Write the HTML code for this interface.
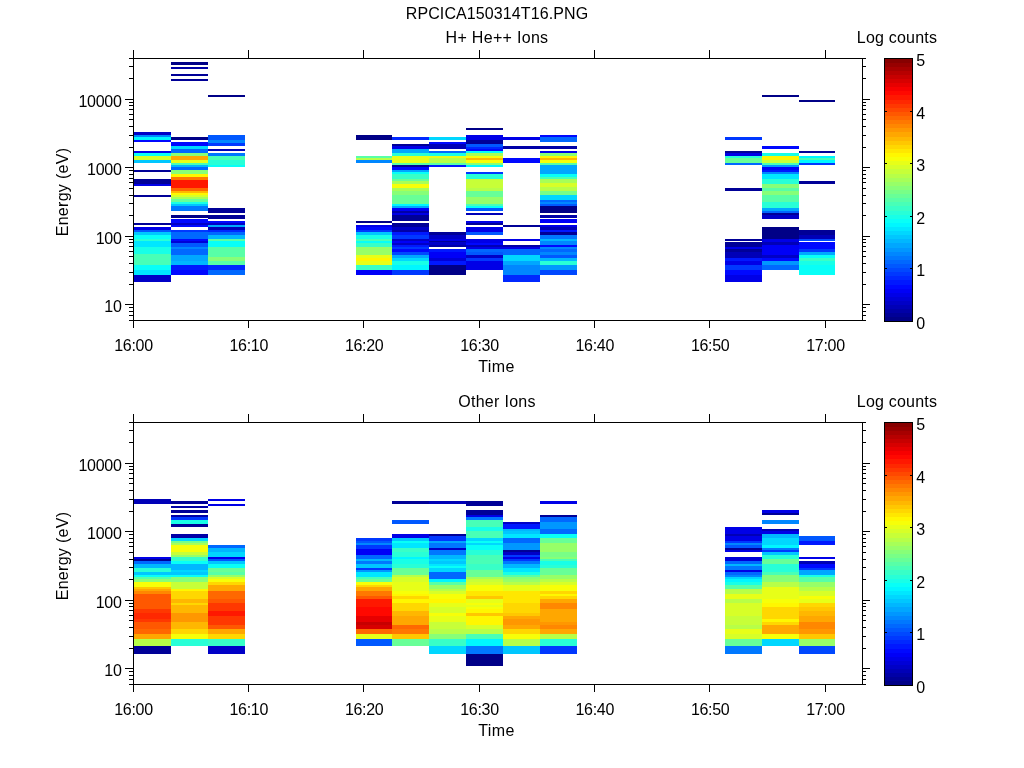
<!DOCTYPE html><html><head><meta charset="utf-8"><title>RPCICA150314T16</title><style>html,body{margin:0;padding:0;background:#fff}svg{display:block}</style></head><body>
<svg width="1024" height="768" viewBox="0 0 1024 768" font-family="Liberation Sans, sans-serif" font-size="16" fill="#000">
<rect width="1024" height="768" fill="#fff"/>
<text x="497" y="19" text-anchor="middle" letter-spacing="0.1">RPCICA150314T16.PNG</text>
<g shape-rendering="crispEdges">
<rect x="134" y="132" width="37" height="3" fill="#0000c7"/>
<rect x="134" y="135" width="37" height="2" fill="#0087ff"/>
<rect x="134" y="137" width="37" height="3" fill="#00f7ff"/>
<rect x="134" y="140" width="37" height="2" fill="#0008ff"/>
<rect x="134" y="151" width="37" height="2" fill="#0000e7"/>
<rect x="134" y="153" width="37" height="3" fill="#08fff7"/>
<rect x="134" y="156" width="37" height="4" fill="#d7ff28"/>
<rect x="134" y="160" width="37" height="3" fill="#00c7ff"/>
<rect x="134" y="170" width="37" height="2" fill="#000097"/>
<rect x="134" y="179" width="37" height="5" fill="#000097"/>
<rect x="134" y="184" width="37" height="2" fill="#0000e7"/>
<rect x="134" y="195" width="37" height="2" fill="#000097"/>
<rect x="134" y="223" width="37" height="2" fill="#000097"/>
<rect x="134" y="227" width="37" height="3" fill="#0000e7"/>
<rect x="134" y="230" width="37" height="2" fill="#0058ff"/>
<rect x="134" y="232" width="37" height="3" fill="#00c7ff"/>
<rect x="134" y="235" width="37" height="4" fill="#08fff7"/>
<rect x="134" y="239" width="37" height="2" fill="#28ffd7"/>
<rect x="134" y="241" width="37" height="6" fill="#00e7ff"/>
<rect x="134" y="247" width="37" height="7" fill="#18ffe7"/>
<rect x="134" y="254" width="37" height="11" fill="#48ffb7"/>
<rect x="134" y="265" width="37" height="5" fill="#08fff7"/>
<rect x="134" y="270" width="37" height="5" fill="#00e7ff"/>
<rect x="134" y="275" width="37" height="7" fill="#0000c7"/>
<rect x="171" y="62" width="37" height="3" fill="#000087"/>
<rect x="171" y="67" width="37" height="2" fill="#0000a7"/>
<rect x="171" y="74" width="37" height="2" fill="#000097"/>
<rect x="171" y="79" width="37" height="2" fill="#000097"/>
<rect x="171" y="137" width="37" height="3" fill="#000087"/>
<rect x="171" y="142" width="37" height="4" fill="#0008ff"/>
<rect x="171" y="146" width="37" height="3" fill="#00d7ff"/>
<rect x="171" y="149" width="37" height="4" fill="#0068ff"/>
<rect x="171" y="153" width="37" height="3" fill="#87ff78"/>
<rect x="171" y="156" width="37" height="4" fill="#ffa700"/>
<rect x="171" y="160" width="37" height="3" fill="#e7ff18"/>
<rect x="171" y="163" width="37" height="2" fill="#48ffb7"/>
<rect x="171" y="165" width="37" height="2" fill="#00b7ff"/>
<rect x="171" y="167" width="37" height="3" fill="#0068ff"/>
<rect x="171" y="170" width="37" height="4" fill="#87ff78"/>
<rect x="171" y="174" width="37" height="3" fill="#fff700"/>
<rect x="171" y="177" width="37" height="3" fill="#ff7800"/>
<rect x="171" y="180" width="37" height="8" fill="#ff1800"/>
<rect x="171" y="188" width="37" height="3" fill="#ff6800"/>
<rect x="171" y="191" width="37" height="2" fill="#ffb700"/>
<rect x="171" y="193" width="37" height="2" fill="#fff700"/>
<rect x="171" y="195" width="37" height="2" fill="#d7ff28"/>
<rect x="171" y="197" width="37" height="2" fill="#a7ff58"/>
<rect x="171" y="199" width="37" height="3" fill="#68ff97"/>
<rect x="171" y="202" width="37" height="2" fill="#18ffe7"/>
<rect x="171" y="204" width="37" height="2" fill="#00c7ff"/>
<rect x="171" y="206" width="37" height="5" fill="#0078ff"/>
<rect x="171" y="215" width="37" height="3" fill="#000087"/>
<rect x="171" y="219" width="37" height="4" fill="#0008ff"/>
<rect x="171" y="223" width="37" height="2" fill="#0000c7"/>
<rect x="171" y="225" width="37" height="2" fill="#0008ff"/>
<rect x="171" y="230" width="37" height="2" fill="#0038ff"/>
<rect x="171" y="232" width="37" height="7" fill="#0068ff"/>
<rect x="171" y="239" width="37" height="2" fill="#0008ff"/>
<rect x="171" y="241" width="37" height="2" fill="#0000d7"/>
<rect x="171" y="243" width="37" height="4" fill="#0058ff"/>
<rect x="171" y="247" width="37" height="2" fill="#0087ff"/>
<rect x="171" y="249" width="37" height="6" fill="#0068ff"/>
<rect x="171" y="255" width="37" height="6" fill="#00a7ff"/>
<rect x="171" y="261" width="37" height="4" fill="#00b7ff"/>
<rect x="171" y="265" width="37" height="5" fill="#0018ff"/>
<rect x="171" y="270" width="37" height="5" fill="#0008ff"/>
<rect x="208" y="95" width="37" height="2" fill="#000087"/>
<rect x="208" y="135" width="37" height="5" fill="#0058ff"/>
<rect x="208" y="140" width="37" height="3" fill="#0087ff"/>
<rect x="208" y="143" width="37" height="3" fill="#0038ff"/>
<rect x="208" y="149" width="37" height="2" fill="#0000b7"/>
<rect x="208" y="153" width="37" height="3" fill="#0078ff"/>
<rect x="208" y="156" width="37" height="4" fill="#48ffb7"/>
<rect x="208" y="160" width="37" height="5" fill="#28ffd7"/>
<rect x="208" y="165" width="37" height="2" fill="#08fff7"/>
<rect x="208" y="208" width="37" height="5" fill="#000097"/>
<rect x="208" y="215" width="37" height="4" fill="#000097"/>
<rect x="208" y="221" width="37" height="2" fill="#0008ff"/>
<rect x="208" y="223" width="37" height="2" fill="#0000c7"/>
<rect x="208" y="225" width="37" height="2" fill="#00a7ff"/>
<rect x="208" y="227" width="37" height="3" fill="#0000b7"/>
<rect x="208" y="230" width="37" height="2" fill="#0028ff"/>
<rect x="208" y="232" width="37" height="3" fill="#0068ff"/>
<rect x="208" y="235" width="37" height="4" fill="#00b7ff"/>
<rect x="208" y="239" width="37" height="2" fill="#58ffa7"/>
<rect x="208" y="241" width="37" height="6" fill="#08fff7"/>
<rect x="208" y="247" width="37" height="10" fill="#58ffa7"/>
<rect x="208" y="257" width="37" height="4" fill="#87ff78"/>
<rect x="208" y="261" width="37" height="4" fill="#58ffa7"/>
<rect x="208" y="265" width="37" height="5" fill="#0028ff"/>
<rect x="208" y="270" width="37" height="5" fill="#0068ff"/>
<rect x="356" y="135" width="36" height="5" fill="#000087"/>
<rect x="356" y="156" width="36" height="2" fill="#58ffa7"/>
<rect x="356" y="158" width="36" height="2" fill="#b7ff48"/>
<rect x="356" y="160" width="36" height="3" fill="#0087ff"/>
<rect x="356" y="221" width="36" height="2" fill="#000087"/>
<rect x="356" y="225" width="36" height="2" fill="#0000e7"/>
<rect x="356" y="227" width="36" height="3" fill="#0008ff"/>
<rect x="356" y="230" width="36" height="2" fill="#0038ff"/>
<rect x="356" y="232" width="36" height="3" fill="#00c7ff"/>
<rect x="356" y="235" width="36" height="4" fill="#18ffe7"/>
<rect x="356" y="239" width="36" height="2" fill="#48ffb7"/>
<rect x="356" y="241" width="36" height="2" fill="#08fff7"/>
<rect x="356" y="243" width="36" height="4" fill="#38ffc7"/>
<rect x="356" y="247" width="36" height="8" fill="#97ff68"/>
<rect x="356" y="255" width="36" height="3" fill="#e7ff18"/>
<rect x="356" y="258" width="36" height="3" fill="#fff700"/>
<rect x="356" y="261" width="36" height="4" fill="#e7ff18"/>
<rect x="356" y="265" width="36" height="5" fill="#38ffc7"/>
<rect x="356" y="270" width="36" height="5" fill="#0000f7"/>
<rect x="392" y="137" width="37" height="3" fill="#0028ff"/>
<rect x="392" y="144" width="37" height="2" fill="#000097"/>
<rect x="392" y="146" width="37" height="3" fill="#0000e7"/>
<rect x="392" y="149" width="37" height="4" fill="#00a7ff"/>
<rect x="392" y="153" width="37" height="3" fill="#28ffd7"/>
<rect x="392" y="156" width="37" height="7" fill="#e7ff18"/>
<rect x="392" y="163" width="37" height="2" fill="#58ffa7"/>
<rect x="392" y="165" width="37" height="2" fill="#000097"/>
<rect x="392" y="167" width="37" height="3" fill="#0008ff"/>
<rect x="392" y="170" width="37" height="2" fill="#00a7ff"/>
<rect x="392" y="172" width="37" height="2" fill="#08fff7"/>
<rect x="392" y="174" width="37" height="5" fill="#38ffc7"/>
<rect x="392" y="179" width="37" height="2" fill="#68ff97"/>
<rect x="392" y="181" width="37" height="3" fill="#a7ff58"/>
<rect x="392" y="184" width="37" height="4" fill="#f7ff08"/>
<rect x="392" y="188" width="37" height="3" fill="#a7ff58"/>
<rect x="392" y="191" width="37" height="4" fill="#87ff78"/>
<rect x="392" y="195" width="37" height="9" fill="#68ff97"/>
<rect x="392" y="204" width="37" height="2" fill="#00f7ff"/>
<rect x="392" y="206" width="37" height="2" fill="#00a7ff"/>
<rect x="392" y="208" width="37" height="3" fill="#0000f7"/>
<rect x="392" y="211" width="37" height="2" fill="#0000a7"/>
<rect x="392" y="213" width="37" height="2" fill="#0000e7"/>
<rect x="392" y="215" width="37" height="6" fill="#000097"/>
<rect x="392" y="223" width="37" height="4" fill="#000097"/>
<rect x="392" y="227" width="37" height="3" fill="#0000c7"/>
<rect x="392" y="230" width="37" height="2" fill="#0000a7"/>
<rect x="392" y="232" width="37" height="3" fill="#0018ff"/>
<rect x="392" y="235" width="37" height="4" fill="#0038ff"/>
<rect x="392" y="239" width="37" height="2" fill="#0000c7"/>
<rect x="392" y="241" width="37" height="2" fill="#0000f7"/>
<rect x="392" y="243" width="37" height="2" fill="#0000c7"/>
<rect x="392" y="245" width="37" height="2" fill="#0018ff"/>
<rect x="392" y="247" width="37" height="2" fill="#0038ff"/>
<rect x="392" y="249" width="37" height="3" fill="#0008ff"/>
<rect x="392" y="252" width="37" height="3" fill="#0048ff"/>
<rect x="392" y="255" width="37" height="3" fill="#00a7ff"/>
<rect x="392" y="258" width="37" height="3" fill="#00d7ff"/>
<rect x="392" y="261" width="37" height="4" fill="#18ffe7"/>
<rect x="392" y="265" width="37" height="5" fill="#00f7ff"/>
<rect x="392" y="270" width="37" height="5" fill="#0038ff"/>
<rect x="429" y="137" width="37" height="3" fill="#00d7ff"/>
<rect x="429" y="142" width="37" height="2" fill="#0008ff"/>
<rect x="429" y="144" width="37" height="5" fill="#0000b7"/>
<rect x="429" y="151" width="37" height="2" fill="#0068ff"/>
<rect x="429" y="153" width="37" height="3" fill="#18ffe7"/>
<rect x="429" y="156" width="37" height="2" fill="#e7ff18"/>
<rect x="429" y="158" width="37" height="5" fill="#b7ff48"/>
<rect x="429" y="163" width="37" height="2" fill="#58ffa7"/>
<rect x="429" y="165" width="37" height="2" fill="#0018ff"/>
<rect x="429" y="232" width="37" height="3" fill="#000097"/>
<rect x="429" y="235" width="37" height="4" fill="#0000c7"/>
<rect x="429" y="239" width="37" height="2" fill="#0000e7"/>
<rect x="429" y="241" width="37" height="1" fill="#000097"/>
<rect x="429" y="242" width="37" height="3" fill="#0000c7"/>
<rect x="429" y="245" width="37" height="2" fill="#0000a7"/>
<rect x="429" y="249" width="37" height="3" fill="#0018ff"/>
<rect x="429" y="252" width="37" height="6" fill="#0000f7"/>
<rect x="429" y="258" width="37" height="3" fill="#0000d7"/>
<rect x="429" y="261" width="37" height="4" fill="#0018ff"/>
<rect x="429" y="265" width="37" height="10" fill="#000087"/>
<rect x="466" y="128" width="37" height="2" fill="#000087"/>
<rect x="466" y="135" width="37" height="5" fill="#0000e7"/>
<rect x="466" y="140" width="37" height="4" fill="#000097"/>
<rect x="466" y="144" width="37" height="3" fill="#0058ff"/>
<rect x="466" y="147" width="37" height="2" fill="#0028ff"/>
<rect x="466" y="149" width="37" height="2" fill="#0008ff"/>
<rect x="466" y="151" width="37" height="2" fill="#08fff7"/>
<rect x="466" y="153" width="37" height="3" fill="#a7ff58"/>
<rect x="466" y="156" width="37" height="2" fill="#f7ff08"/>
<rect x="466" y="158" width="37" height="2" fill="#ffb700"/>
<rect x="466" y="160" width="37" height="3" fill="#f7ff08"/>
<rect x="466" y="163" width="37" height="2" fill="#87ff78"/>
<rect x="466" y="165" width="37" height="2" fill="#00f7ff"/>
<rect x="466" y="172" width="37" height="2" fill="#0038ff"/>
<rect x="466" y="174" width="37" height="5" fill="#28ffd7"/>
<rect x="466" y="179" width="37" height="9" fill="#c7ff38"/>
<rect x="466" y="188" width="37" height="3" fill="#b7ff48"/>
<rect x="466" y="191" width="37" height="6" fill="#68ff97"/>
<rect x="466" y="197" width="37" height="7" fill="#97ff68"/>
<rect x="466" y="204" width="37" height="2" fill="#48ffb7"/>
<rect x="466" y="206" width="37" height="2" fill="#08fff7"/>
<rect x="466" y="208" width="37" height="3" fill="#0058ff"/>
<rect x="466" y="213" width="37" height="2" fill="#0000b7"/>
<rect x="466" y="221" width="37" height="2" fill="#0000e7"/>
<rect x="466" y="223" width="37" height="2" fill="#000097"/>
<rect x="466" y="227" width="37" height="5" fill="#0000e7"/>
<rect x="466" y="232" width="37" height="3" fill="#0058ff"/>
<rect x="466" y="239" width="37" height="4" fill="#0000e7"/>
<rect x="466" y="243" width="37" height="2" fill="#0008ff"/>
<rect x="466" y="245" width="37" height="2" fill="#0000b7"/>
<rect x="466" y="247" width="37" height="2" fill="#0000e7"/>
<rect x="466" y="249" width="37" height="3" fill="#0068ff"/>
<rect x="466" y="252" width="37" height="3" fill="#0058ff"/>
<rect x="466" y="255" width="37" height="3" fill="#0000c7"/>
<rect x="466" y="258" width="37" height="3" fill="#0038ff"/>
<rect x="466" y="261" width="37" height="9" fill="#0000e7"/>
<rect x="503" y="137" width="37" height="3" fill="#0000e7"/>
<rect x="503" y="146" width="37" height="3" fill="#0000a7"/>
<rect x="503" y="158" width="37" height="5" fill="#0008ff"/>
<rect x="503" y="225" width="37" height="2" fill="#000097"/>
<rect x="503" y="239" width="37" height="2" fill="#0000e7"/>
<rect x="503" y="245" width="37" height="2" fill="#0000a7"/>
<rect x="503" y="247" width="37" height="2" fill="#0000e7"/>
<rect x="503" y="249" width="37" height="6" fill="#0068ff"/>
<rect x="503" y="255" width="37" height="6" fill="#00d7ff"/>
<rect x="503" y="261" width="37" height="4" fill="#00a7ff"/>
<rect x="503" y="265" width="37" height="10" fill="#0087ff"/>
<rect x="503" y="275" width="37" height="7" fill="#0028ff"/>
<rect x="540" y="135" width="37" height="2" fill="#0008ff"/>
<rect x="540" y="137" width="37" height="5" fill="#0068ff"/>
<rect x="540" y="146" width="37" height="3" fill="#0000a7"/>
<rect x="540" y="151" width="37" height="2" fill="#0000e7"/>
<rect x="540" y="153" width="37" height="3" fill="#87ff78"/>
<rect x="540" y="156" width="37" height="2" fill="#fff700"/>
<rect x="540" y="158" width="37" height="2" fill="#ffb700"/>
<rect x="540" y="160" width="37" height="3" fill="#f7ff08"/>
<rect x="540" y="163" width="37" height="2" fill="#58ffa7"/>
<rect x="540" y="165" width="37" height="9" fill="#00a7ff"/>
<rect x="540" y="174" width="37" height="3" fill="#08fff7"/>
<rect x="540" y="177" width="37" height="2" fill="#48ffb7"/>
<rect x="540" y="179" width="37" height="4" fill="#a7ff58"/>
<rect x="540" y="183" width="37" height="4" fill="#d7ff28"/>
<rect x="540" y="187" width="37" height="4" fill="#b7ff48"/>
<rect x="540" y="191" width="37" height="4" fill="#78ff87"/>
<rect x="540" y="195" width="37" height="5" fill="#00d7ff"/>
<rect x="540" y="200" width="37" height="2" fill="#0068ff"/>
<rect x="540" y="202" width="37" height="2" fill="#0087ff"/>
<rect x="540" y="204" width="37" height="2" fill="#0058ff"/>
<rect x="540" y="206" width="37" height="7" fill="#000087"/>
<rect x="540" y="215" width="37" height="3" fill="#0000a7"/>
<rect x="540" y="219" width="37" height="4" fill="#0000f7"/>
<rect x="540" y="225" width="37" height="2" fill="#0000e7"/>
<rect x="540" y="227" width="37" height="3" fill="#0000b7"/>
<rect x="540" y="230" width="37" height="2" fill="#0018ff"/>
<rect x="540" y="232" width="37" height="3" fill="#000097"/>
<rect x="540" y="235" width="37" height="4" fill="#0078ff"/>
<rect x="540" y="239" width="37" height="2" fill="#00b7ff"/>
<rect x="540" y="241" width="37" height="4" fill="#0087ff"/>
<rect x="540" y="245" width="37" height="2" fill="#0008ff"/>
<rect x="540" y="247" width="37" height="2" fill="#0087ff"/>
<rect x="540" y="249" width="37" height="3" fill="#0068ff"/>
<rect x="540" y="252" width="37" height="3" fill="#0087ff"/>
<rect x="540" y="255" width="37" height="3" fill="#0058ff"/>
<rect x="540" y="258" width="37" height="3" fill="#00b7ff"/>
<rect x="540" y="261" width="37" height="4" fill="#28ffd7"/>
<rect x="540" y="265" width="37" height="5" fill="#0097ff"/>
<rect x="540" y="270" width="37" height="5" fill="#0048ff"/>
<rect x="725" y="137" width="37" height="3" fill="#0038ff"/>
<rect x="725" y="151" width="37" height="2" fill="#000097"/>
<rect x="725" y="153" width="37" height="3" fill="#0000e7"/>
<rect x="725" y="156" width="37" height="2" fill="#28ffd7"/>
<rect x="725" y="158" width="37" height="5" fill="#68ff97"/>
<rect x="725" y="163" width="37" height="2" fill="#0068ff"/>
<rect x="725" y="188" width="37" height="3" fill="#000097"/>
<rect x="725" y="239" width="37" height="2" fill="#000097"/>
<rect x="725" y="242" width="37" height="5" fill="#000097"/>
<rect x="725" y="247" width="37" height="2" fill="#0000e7"/>
<rect x="725" y="249" width="37" height="3" fill="#000097"/>
<rect x="725" y="252" width="37" height="6" fill="#0000b7"/>
<rect x="725" y="258" width="37" height="3" fill="#0018ff"/>
<rect x="725" y="261" width="37" height="4" fill="#0000e7"/>
<rect x="725" y="265" width="37" height="5" fill="#0038ff"/>
<rect x="725" y="270" width="37" height="5" fill="#0008ff"/>
<rect x="725" y="275" width="37" height="7" fill="#0000e7"/>
<rect x="762" y="95" width="37" height="2" fill="#000087"/>
<rect x="762" y="146" width="37" height="3" fill="#0008ff"/>
<rect x="762" y="153" width="37" height="3" fill="#18ffe7"/>
<rect x="762" y="156" width="37" height="4" fill="#fff700"/>
<rect x="762" y="160" width="37" height="3" fill="#c7ff38"/>
<rect x="762" y="163" width="37" height="2" fill="#48ffb7"/>
<rect x="762" y="165" width="37" height="2" fill="#0097ff"/>
<rect x="762" y="167" width="37" height="3" fill="#0000f7"/>
<rect x="762" y="170" width="37" height="2" fill="#0018ff"/>
<rect x="762" y="172" width="37" height="2" fill="#0087ff"/>
<rect x="762" y="174" width="37" height="5" fill="#00e7ff"/>
<rect x="762" y="179" width="37" height="5" fill="#28ffd7"/>
<rect x="762" y="184" width="37" height="4" fill="#87ff78"/>
<rect x="762" y="188" width="37" height="3" fill="#58ffa7"/>
<rect x="762" y="191" width="37" height="4" fill="#87ff78"/>
<rect x="762" y="195" width="37" height="7" fill="#58ffa7"/>
<rect x="762" y="202" width="37" height="6" fill="#28ffd7"/>
<rect x="762" y="208" width="37" height="3" fill="#00a7ff"/>
<rect x="762" y="211" width="37" height="2" fill="#0068ff"/>
<rect x="762" y="213" width="37" height="2" fill="#000097"/>
<rect x="762" y="215" width="37" height="4" fill="#0000c7"/>
<rect x="762" y="227" width="37" height="12" fill="#000087"/>
<rect x="762" y="239" width="37" height="3" fill="#0000e7"/>
<rect x="762" y="242" width="37" height="3" fill="#0000b7"/>
<rect x="762" y="245" width="37" height="10" fill="#0000f7"/>
<rect x="762" y="255" width="37" height="3" fill="#0000c7"/>
<rect x="762" y="258" width="37" height="3" fill="#0008ff"/>
<rect x="762" y="261" width="37" height="4" fill="#0097ff"/>
<rect x="762" y="265" width="37" height="5" fill="#0068ff"/>
<rect x="799" y="100" width="36" height="2" fill="#000087"/>
<rect x="799" y="151" width="36" height="2" fill="#000097"/>
<rect x="799" y="156" width="36" height="2" fill="#00f7ff"/>
<rect x="799" y="158" width="36" height="2" fill="#48ffb7"/>
<rect x="799" y="160" width="36" height="3" fill="#00f7ff"/>
<rect x="799" y="163" width="36" height="2" fill="#0038ff"/>
<rect x="799" y="181" width="36" height="3" fill="#000097"/>
<rect x="799" y="230" width="36" height="5" fill="#000097"/>
<rect x="799" y="235" width="36" height="4" fill="#0000b7"/>
<rect x="799" y="239" width="36" height="2" fill="#0048ff"/>
<rect x="799" y="242" width="36" height="7" fill="#0008ff"/>
<rect x="799" y="249" width="36" height="3" fill="#0038ff"/>
<rect x="799" y="252" width="36" height="3" fill="#00a7ff"/>
<rect x="799" y="255" width="36" height="3" fill="#08fff7"/>
<rect x="799" y="258" width="36" height="3" fill="#38ffc7"/>
<rect x="799" y="261" width="36" height="4" fill="#18ffe7"/>
<rect x="799" y="265" width="36" height="10" fill="#08fff7"/>
<path d="M133.5 58.5H862.5V320.5H133.5ZM133.5 50V58M133.5 321V328M248.5 50V58M248.5 321V328M363.5 50V58M363.5 321V328M479.5 50V58M479.5 321V328M594.5 50V58M594.5 321V328M709.5 50V58M709.5 321V328M825.5 50V58M825.5 321V328M129 320.5H133M863 320.5H866M129 315.5H133M863 315.5H866M129 311.5H133M863 311.5H866M129 307.5H133M863 307.5H866M125 304.5H133M863 304.5H870M129 284.5H133M863 284.5H866M129 272.5H133M863 272.5H866M129 263.5H133M863 263.5H866M129 256.5H133M863 256.5H866M129 251.5H133M863 251.5H866M129 246.5H133M863 246.5H866M129 242.5H133M863 242.5H866M129 239.5H133M863 239.5H866M125 236.5H133M863 236.5H870M129 215.5H133M863 215.5H866M129 203.5H133M863 203.5H866M129 195.5H133M863 195.5H866M129 188.5H133M863 188.5H866M129 182.5H133M863 182.5H866M129 178.5H133M863 178.5H866M129 174.5H133M863 174.5H866M129 170.5H133M863 170.5H866M125 167.5H133M863 167.5H870M129 147.5H133M863 147.5H866M129 135.5H133M863 135.5H866M129 126.5H133M863 126.5H866M129 119.5H133M863 119.5H866M129 114.5H133M863 114.5H866M129 109.5H133M863 109.5H866M129 105.5H133M863 105.5H866M129 102.5H133M863 102.5H866M125 99.5H133M863 99.5H870M129 78.5H133M863 78.5H866M129 66.5H133M863 66.5H866M129 58.5H133M863 58.5H866" stroke="#000" stroke-width="1" fill="none" shape-rendering="crispEdges"/>
<text x="133.5" y="351" text-anchor="middle" letter-spacing="-0.3">16:00</text>
<text x="248.8" y="351" text-anchor="middle" letter-spacing="-0.3">16:10</text>
<text x="364.2" y="351" text-anchor="middle" letter-spacing="-0.3">16:20</text>
<text x="479.5" y="351" text-anchor="middle" letter-spacing="-0.3">16:30</text>
<text x="594.8" y="351" text-anchor="middle" letter-spacing="-0.3">16:40</text>
<text x="710.2" y="351" text-anchor="middle" letter-spacing="-0.3">16:50</text>
<text x="825.5" y="351" text-anchor="middle" letter-spacing="-0.3">17:00</text>
<text x="121.5" y="107" text-anchor="end" letter-spacing="-0.3">10000</text>
<text x="121.5" y="175" text-anchor="end" letter-spacing="-0.3">1000</text>
<text x="121.5" y="244" text-anchor="end" letter-spacing="-0.3">100</text>
<text x="121.5" y="312" text-anchor="end" letter-spacing="-0.3">10</text>
<text x="497" y="43" text-anchor="middle" letter-spacing="0.3">H+ He++ Ions</text>
<text x="496.5" y="372" text-anchor="middle" letter-spacing="0.4">Time</text>
<text transform="translate(68,192) rotate(-90)" text-anchor="middle" letter-spacing="0.3">Energy (eV)</text>
<text x="897" y="43" text-anchor="middle" letter-spacing="0.2">Log counts</text>
<rect x="884" y="316.89" width="29" height="4.61" fill="#000087"/>
<rect x="884" y="312.78" width="29" height="4.61" fill="#000097"/>
<rect x="884" y="308.67" width="29" height="4.61" fill="#0000a7"/>
<rect x="884" y="304.56" width="29" height="4.61" fill="#0000b7"/>
<rect x="884" y="300.45" width="29" height="4.61" fill="#0000c7"/>
<rect x="884" y="296.34" width="29" height="4.61" fill="#0000d7"/>
<rect x="884" y="292.23" width="29" height="4.61" fill="#0000e7"/>
<rect x="884" y="288.12" width="29" height="4.61" fill="#0000f7"/>
<rect x="884" y="284.02" width="29" height="4.61" fill="#0008ff"/>
<rect x="884" y="279.91" width="29" height="4.61" fill="#0018ff"/>
<rect x="884" y="275.80" width="29" height="4.61" fill="#0028ff"/>
<rect x="884" y="271.69" width="29" height="4.61" fill="#0038ff"/>
<rect x="884" y="267.58" width="29" height="4.61" fill="#0048ff"/>
<rect x="884" y="263.47" width="29" height="4.61" fill="#0058ff"/>
<rect x="884" y="259.36" width="29" height="4.61" fill="#0068ff"/>
<rect x="884" y="255.25" width="29" height="4.61" fill="#0078ff"/>
<rect x="884" y="251.14" width="29" height="4.61" fill="#0087ff"/>
<rect x="884" y="247.03" width="29" height="4.61" fill="#0097ff"/>
<rect x="884" y="242.92" width="29" height="4.61" fill="#00a7ff"/>
<rect x="884" y="238.81" width="29" height="4.61" fill="#00b7ff"/>
<rect x="884" y="234.70" width="29" height="4.61" fill="#00c7ff"/>
<rect x="884" y="230.59" width="29" height="4.61" fill="#00d7ff"/>
<rect x="884" y="226.48" width="29" height="4.61" fill="#00e7ff"/>
<rect x="884" y="222.38" width="29" height="4.61" fill="#00f7ff"/>
<rect x="884" y="218.27" width="29" height="4.61" fill="#08fff7"/>
<rect x="884" y="214.16" width="29" height="4.61" fill="#18ffe7"/>
<rect x="884" y="210.05" width="29" height="4.61" fill="#28ffd7"/>
<rect x="884" y="205.94" width="29" height="4.61" fill="#38ffc7"/>
<rect x="884" y="201.83" width="29" height="4.61" fill="#48ffb7"/>
<rect x="884" y="197.72" width="29" height="4.61" fill="#58ffa7"/>
<rect x="884" y="193.61" width="29" height="4.61" fill="#68ff97"/>
<rect x="884" y="189.50" width="29" height="4.61" fill="#78ff87"/>
<rect x="884" y="185.39" width="29" height="4.61" fill="#87ff78"/>
<rect x="884" y="181.28" width="29" height="4.61" fill="#97ff68"/>
<rect x="884" y="177.17" width="29" height="4.61" fill="#a7ff58"/>
<rect x="884" y="173.06" width="29" height="4.61" fill="#b7ff48"/>
<rect x="884" y="168.95" width="29" height="4.61" fill="#c7ff38"/>
<rect x="884" y="164.84" width="29" height="4.61" fill="#d7ff28"/>
<rect x="884" y="160.73" width="29" height="4.61" fill="#e7ff18"/>
<rect x="884" y="156.62" width="29" height="4.61" fill="#f7ff08"/>
<rect x="884" y="152.52" width="29" height="4.61" fill="#fff700"/>
<rect x="884" y="148.41" width="29" height="4.61" fill="#ffe700"/>
<rect x="884" y="144.30" width="29" height="4.61" fill="#ffd700"/>
<rect x="884" y="140.19" width="29" height="4.61" fill="#ffc700"/>
<rect x="884" y="136.08" width="29" height="4.61" fill="#ffb700"/>
<rect x="884" y="131.97" width="29" height="4.61" fill="#ffa700"/>
<rect x="884" y="127.86" width="29" height="4.61" fill="#ff9700"/>
<rect x="884" y="123.75" width="29" height="4.61" fill="#ff8700"/>
<rect x="884" y="119.64" width="29" height="4.61" fill="#ff7800"/>
<rect x="884" y="115.53" width="29" height="4.61" fill="#ff6800"/>
<rect x="884" y="111.42" width="29" height="4.61" fill="#ff5800"/>
<rect x="884" y="107.31" width="29" height="4.61" fill="#ff4800"/>
<rect x="884" y="103.20" width="29" height="4.61" fill="#ff3800"/>
<rect x="884" y="99.09" width="29" height="4.61" fill="#ff2800"/>
<rect x="884" y="94.98" width="29" height="4.61" fill="#ff1800"/>
<rect x="884" y="90.88" width="29" height="4.61" fill="#ff0800"/>
<rect x="884" y="86.77" width="29" height="4.61" fill="#f70000"/>
<rect x="884" y="82.66" width="29" height="4.61" fill="#e70000"/>
<rect x="884" y="78.55" width="29" height="4.61" fill="#d70000"/>
<rect x="884" y="74.44" width="29" height="4.61" fill="#c70000"/>
<rect x="884" y="70.33" width="29" height="4.61" fill="#b70000"/>
<rect x="884" y="66.22" width="29" height="4.61" fill="#a70000"/>
<rect x="884" y="62.11" width="29" height="4.61" fill="#970000"/>
<rect x="884" y="58.00" width="29" height="4.61" fill="#870000"/>
<text x="916.3" y="329">0</text>
<text x="916.3" y="276">1</text>
<text x="916.3" y="224">2</text>
<text x="916.3" y="171">3</text>
<text x="916.3" y="119">4</text>
<text x="916.3" y="66">5</text>
<path d="M884.5 58.5H912.5V321.5H884.5ZM884 268.5H887M910 268.5H913M884 216.5H887M910 216.5H913M884 163.5H887M910 163.5H913M884 111.5H887M910 111.5H913" stroke="#000" stroke-width="1" fill="none" shape-rendering="crispEdges"/>
<rect x="134" y="499" width="37" height="5" fill="#0000b7"/>
<rect x="134" y="557" width="37" height="2" fill="#0000e7"/>
<rect x="134" y="559" width="37" height="2" fill="#000097"/>
<rect x="134" y="561" width="37" height="3" fill="#0068ff"/>
<rect x="134" y="564" width="37" height="4" fill="#00b7ff"/>
<rect x="134" y="568" width="37" height="4" fill="#28ffd7"/>
<rect x="134" y="572" width="37" height="3" fill="#00c7ff"/>
<rect x="134" y="575" width="37" height="2" fill="#08fff7"/>
<rect x="134" y="577" width="37" height="2" fill="#58ffa7"/>
<rect x="134" y="579" width="37" height="3" fill="#87ff78"/>
<rect x="134" y="582" width="37" height="5" fill="#f7ff08"/>
<rect x="134" y="587" width="37" height="2" fill="#ffc700"/>
<rect x="134" y="589" width="37" height="2" fill="#ffa700"/>
<rect x="134" y="591" width="37" height="3" fill="#ff8700"/>
<rect x="134" y="594" width="37" height="15" fill="#ff5800"/>
<rect x="134" y="609" width="37" height="4" fill="#ff3800"/>
<rect x="134" y="613" width="37" height="6" fill="#ff2800"/>
<rect x="134" y="619" width="37" height="3" fill="#ff3800"/>
<rect x="134" y="622" width="37" height="7" fill="#ff5800"/>
<rect x="134" y="629" width="37" height="5" fill="#ff6800"/>
<rect x="134" y="634" width="37" height="5" fill="#ffa700"/>
<rect x="134" y="639" width="37" height="7" fill="#b7ff48"/>
<rect x="134" y="646" width="37" height="8" fill="#000097"/>
<rect x="171" y="501" width="37" height="3" fill="#000097"/>
<rect x="171" y="506" width="37" height="2" fill="#0000a7"/>
<rect x="171" y="510" width="37" height="3" fill="#000097"/>
<rect x="171" y="515" width="37" height="2" fill="#0000a7"/>
<rect x="171" y="517" width="37" height="3" fill="#0038ff"/>
<rect x="171" y="520" width="37" height="4" fill="#18ffe7"/>
<rect x="171" y="524" width="37" height="3" fill="#000097"/>
<rect x="171" y="534" width="37" height="4" fill="#0000a7"/>
<rect x="171" y="538" width="37" height="3" fill="#00d7ff"/>
<rect x="171" y="541" width="37" height="2" fill="#78ff87"/>
<rect x="171" y="543" width="37" height="2" fill="#a7ff58"/>
<rect x="171" y="545" width="37" height="7" fill="#f7ff08"/>
<rect x="171" y="552" width="37" height="3" fill="#c7ff38"/>
<rect x="171" y="555" width="37" height="2" fill="#97ff68"/>
<rect x="171" y="557" width="37" height="4" fill="#38ffc7"/>
<rect x="171" y="561" width="37" height="3" fill="#08fff7"/>
<rect x="171" y="564" width="37" height="6" fill="#00b7ff"/>
<rect x="171" y="570" width="37" height="2" fill="#00d7ff"/>
<rect x="171" y="572" width="37" height="3" fill="#00c7ff"/>
<rect x="171" y="575" width="37" height="2" fill="#08fff7"/>
<rect x="171" y="577" width="37" height="5" fill="#87ff78"/>
<rect x="171" y="582" width="37" height="7" fill="#c7ff38"/>
<rect x="171" y="589" width="37" height="2" fill="#fff700"/>
<rect x="171" y="591" width="37" height="8" fill="#ffd700"/>
<rect x="171" y="599" width="37" height="4" fill="#ffb700"/>
<rect x="171" y="603" width="37" height="2" fill="#ffd700"/>
<rect x="171" y="605" width="37" height="8" fill="#ffb700"/>
<rect x="171" y="613" width="37" height="9" fill="#ff9700"/>
<rect x="171" y="622" width="37" height="7" fill="#ffb700"/>
<rect x="171" y="629" width="37" height="5" fill="#ffd700"/>
<rect x="171" y="634" width="37" height="5" fill="#f7ff08"/>
<rect x="171" y="639" width="37" height="7" fill="#28ffd7"/>
<rect x="208" y="499" width="37" height="2" fill="#0000e7"/>
<rect x="208" y="504" width="37" height="2" fill="#0000e7"/>
<rect x="208" y="545" width="37" height="3" fill="#0068ff"/>
<rect x="208" y="548" width="37" height="4" fill="#00b7ff"/>
<rect x="208" y="552" width="37" height="5" fill="#00d7ff"/>
<rect x="208" y="557" width="37" height="2" fill="#0000e7"/>
<rect x="208" y="559" width="37" height="2" fill="#0058ff"/>
<rect x="208" y="561" width="37" height="3" fill="#00c7ff"/>
<rect x="208" y="564" width="37" height="4" fill="#08fff7"/>
<rect x="208" y="568" width="37" height="4" fill="#68ff97"/>
<rect x="208" y="572" width="37" height="3" fill="#58ffa7"/>
<rect x="208" y="575" width="37" height="2" fill="#97ff68"/>
<rect x="208" y="577" width="37" height="2" fill="#d7ff28"/>
<rect x="208" y="579" width="37" height="3" fill="#f7ff08"/>
<rect x="208" y="582" width="37" height="3" fill="#ffd700"/>
<rect x="208" y="585" width="37" height="6" fill="#ffa700"/>
<rect x="208" y="591" width="37" height="8" fill="#ff6800"/>
<rect x="208" y="599" width="37" height="4" fill="#ff5800"/>
<rect x="208" y="603" width="37" height="8" fill="#ff3800"/>
<rect x="208" y="611" width="37" height="5" fill="#ff1800"/>
<rect x="208" y="616" width="37" height="9" fill="#ff3800"/>
<rect x="208" y="625" width="37" height="4" fill="#ff5800"/>
<rect x="208" y="629" width="37" height="5" fill="#ffa700"/>
<rect x="208" y="634" width="37" height="5" fill="#ffd700"/>
<rect x="208" y="639" width="37" height="7" fill="#38ffc7"/>
<rect x="208" y="646" width="37" height="8" fill="#0000c7"/>
<rect x="356" y="538" width="36" height="3" fill="#0038ff"/>
<rect x="356" y="541" width="36" height="2" fill="#0058ff"/>
<rect x="356" y="543" width="36" height="2" fill="#0087ff"/>
<rect x="356" y="545" width="36" height="4" fill="#0038ff"/>
<rect x="356" y="549" width="36" height="6" fill="#0000f7"/>
<rect x="356" y="555" width="36" height="4" fill="#0068ff"/>
<rect x="356" y="559" width="36" height="2" fill="#00b7ff"/>
<rect x="356" y="561" width="36" height="3" fill="#0078ff"/>
<rect x="356" y="564" width="36" height="4" fill="#00c7ff"/>
<rect x="356" y="568" width="36" height="2" fill="#0038ff"/>
<rect x="356" y="570" width="36" height="2" fill="#0097ff"/>
<rect x="356" y="572" width="36" height="5" fill="#00e7ff"/>
<rect x="356" y="577" width="36" height="2" fill="#48ffb7"/>
<rect x="356" y="579" width="36" height="3" fill="#68ff97"/>
<rect x="356" y="582" width="36" height="3" fill="#f7ff08"/>
<rect x="356" y="585" width="36" height="2" fill="#ffd700"/>
<rect x="356" y="587" width="36" height="4" fill="#ffa700"/>
<rect x="356" y="591" width="36" height="5" fill="#ff7800"/>
<rect x="356" y="596" width="36" height="3" fill="#ff5800"/>
<rect x="356" y="599" width="36" height="8" fill="#ff1800"/>
<rect x="356" y="607" width="36" height="9" fill="#ff0800"/>
<rect x="356" y="616" width="36" height="6" fill="#e70000"/>
<rect x="356" y="622" width="36" height="3" fill="#c70000"/>
<rect x="356" y="625" width="36" height="4" fill="#d70000"/>
<rect x="356" y="629" width="36" height="5" fill="#ff6800"/>
<rect x="356" y="634" width="36" height="5" fill="#e7ff18"/>
<rect x="356" y="639" width="36" height="7" fill="#0058ff"/>
<rect x="392" y="501" width="37" height="3" fill="#000097"/>
<rect x="392" y="520" width="37" height="4" fill="#0058ff"/>
<rect x="392" y="534" width="37" height="4" fill="#0000e7"/>
<rect x="392" y="538" width="37" height="3" fill="#00c7ff"/>
<rect x="392" y="541" width="37" height="2" fill="#08fff7"/>
<rect x="392" y="543" width="37" height="5" fill="#00e7ff"/>
<rect x="392" y="548" width="37" height="4" fill="#38ffc7"/>
<rect x="392" y="552" width="37" height="5" fill="#28ffd7"/>
<rect x="392" y="557" width="37" height="2" fill="#00f7ff"/>
<rect x="392" y="559" width="37" height="5" fill="#18ffe7"/>
<rect x="392" y="564" width="37" height="4" fill="#28ffd7"/>
<rect x="392" y="568" width="37" height="4" fill="#68ff97"/>
<rect x="392" y="572" width="37" height="3" fill="#68ff97"/>
<rect x="392" y="575" width="37" height="2" fill="#b7ff48"/>
<rect x="392" y="577" width="37" height="5" fill="#d7ff28"/>
<rect x="392" y="582" width="37" height="9" fill="#e7ff18"/>
<rect x="392" y="591" width="37" height="3" fill="#f7ff08"/>
<rect x="392" y="594" width="37" height="2" fill="#fff700"/>
<rect x="392" y="596" width="37" height="3" fill="#ffd700"/>
<rect x="392" y="599" width="37" height="4" fill="#fff700"/>
<rect x="392" y="603" width="37" height="2" fill="#ffd700"/>
<rect x="392" y="605" width="37" height="6" fill="#ffd700"/>
<rect x="392" y="611" width="37" height="5" fill="#ffb700"/>
<rect x="392" y="616" width="37" height="3" fill="#ffa700"/>
<rect x="392" y="619" width="37" height="6" fill="#ffa700"/>
<rect x="392" y="625" width="37" height="4" fill="#ff6800"/>
<rect x="392" y="629" width="37" height="5" fill="#ff7800"/>
<rect x="392" y="634" width="37" height="5" fill="#ffc700"/>
<rect x="392" y="639" width="37" height="7" fill="#68ff97"/>
<rect x="429" y="501" width="37" height="3" fill="#0000b7"/>
<rect x="429" y="534" width="37" height="2" fill="#000097"/>
<rect x="429" y="536" width="37" height="5" fill="#0038ff"/>
<rect x="429" y="541" width="37" height="2" fill="#00a7ff"/>
<rect x="429" y="543" width="37" height="5" fill="#0078ff"/>
<rect x="429" y="548" width="37" height="2" fill="#0000c7"/>
<rect x="429" y="550" width="37" height="5" fill="#0078ff"/>
<rect x="429" y="555" width="37" height="4" fill="#00b7ff"/>
<rect x="429" y="559" width="37" height="2" fill="#00d7ff"/>
<rect x="429" y="561" width="37" height="3" fill="#00c7ff"/>
<rect x="429" y="564" width="37" height="2" fill="#00e7ff"/>
<rect x="429" y="566" width="37" height="2" fill="#08fff7"/>
<rect x="429" y="568" width="37" height="4" fill="#00d7ff"/>
<rect x="429" y="572" width="37" height="7" fill="#0068ff"/>
<rect x="429" y="579" width="37" height="3" fill="#00f7ff"/>
<rect x="429" y="582" width="37" height="3" fill="#58ffa7"/>
<rect x="429" y="585" width="37" height="4" fill="#97ff68"/>
<rect x="429" y="589" width="37" height="2" fill="#b7ff48"/>
<rect x="429" y="591" width="37" height="3" fill="#d7ff28"/>
<rect x="429" y="594" width="37" height="5" fill="#f7ff08"/>
<rect x="429" y="599" width="37" height="4" fill="#fff700"/>
<rect x="429" y="603" width="37" height="4" fill="#e7ff18"/>
<rect x="429" y="607" width="37" height="6" fill="#d7ff28"/>
<rect x="429" y="613" width="37" height="3" fill="#f7ff08"/>
<rect x="429" y="616" width="37" height="6" fill="#e7ff18"/>
<rect x="429" y="622" width="37" height="7" fill="#c7ff38"/>
<rect x="429" y="629" width="37" height="5" fill="#b7ff48"/>
<rect x="429" y="634" width="37" height="5" fill="#87ff78"/>
<rect x="429" y="639" width="37" height="7" fill="#38ffc7"/>
<rect x="429" y="646" width="37" height="8" fill="#00d7ff"/>
<rect x="466" y="501" width="37" height="5" fill="#000097"/>
<rect x="466" y="510" width="37" height="5" fill="#000097"/>
<rect x="466" y="515" width="37" height="2" fill="#0000e7"/>
<rect x="466" y="517" width="37" height="3" fill="#0078ff"/>
<rect x="466" y="520" width="37" height="7" fill="#48ffb7"/>
<rect x="466" y="527" width="37" height="4" fill="#18ffe7"/>
<rect x="466" y="531" width="37" height="7" fill="#48ffb7"/>
<rect x="466" y="538" width="37" height="3" fill="#00d7ff"/>
<rect x="466" y="541" width="37" height="2" fill="#08fff7"/>
<rect x="466" y="543" width="37" height="2" fill="#00d7ff"/>
<rect x="466" y="545" width="37" height="5" fill="#08fff7"/>
<rect x="466" y="550" width="37" height="5" fill="#28ffd7"/>
<rect x="466" y="555" width="37" height="9" fill="#48ffb7"/>
<rect x="466" y="564" width="37" height="6" fill="#38ffc7"/>
<rect x="466" y="570" width="37" height="7" fill="#68ff97"/>
<rect x="466" y="577" width="37" height="2" fill="#a7ff58"/>
<rect x="466" y="579" width="37" height="3" fill="#c7ff38"/>
<rect x="466" y="582" width="37" height="3" fill="#d7ff28"/>
<rect x="466" y="585" width="37" height="6" fill="#f7ff08"/>
<rect x="466" y="591" width="37" height="5" fill="#ffe700"/>
<rect x="466" y="596" width="37" height="3" fill="#ffc700"/>
<rect x="466" y="599" width="37" height="4" fill="#e7ff18"/>
<rect x="466" y="603" width="37" height="2" fill="#f7ff08"/>
<rect x="466" y="605" width="37" height="2" fill="#e7ff18"/>
<rect x="466" y="607" width="37" height="2" fill="#f7ff08"/>
<rect x="466" y="609" width="37" height="4" fill="#fff700"/>
<rect x="466" y="613" width="37" height="3" fill="#ffc700"/>
<rect x="466" y="616" width="37" height="9" fill="#fff700"/>
<rect x="466" y="625" width="37" height="4" fill="#d7ff28"/>
<rect x="466" y="629" width="37" height="5" fill="#b7ff48"/>
<rect x="466" y="634" width="37" height="5" fill="#48ffb7"/>
<rect x="466" y="639" width="37" height="7" fill="#00f7ff"/>
<rect x="466" y="646" width="37" height="8" fill="#0078ff"/>
<rect x="466" y="654" width="37" height="12" fill="#000087"/>
<rect x="503" y="522" width="37" height="2" fill="#0000c7"/>
<rect x="503" y="524" width="37" height="5" fill="#0018ff"/>
<rect x="503" y="529" width="37" height="2" fill="#00b7ff"/>
<rect x="503" y="531" width="37" height="3" fill="#00c7ff"/>
<rect x="503" y="534" width="37" height="4" fill="#00e7ff"/>
<rect x="503" y="538" width="37" height="5" fill="#0068ff"/>
<rect x="503" y="543" width="37" height="7" fill="#0097ff"/>
<rect x="503" y="550" width="37" height="2" fill="#000097"/>
<rect x="503" y="552" width="37" height="3" fill="#0000c7"/>
<rect x="503" y="555" width="37" height="2" fill="#0038ff"/>
<rect x="503" y="557" width="37" height="2" fill="#0000e7"/>
<rect x="503" y="559" width="37" height="2" fill="#0038ff"/>
<rect x="503" y="561" width="37" height="3" fill="#0078ff"/>
<rect x="503" y="564" width="37" height="4" fill="#00b7ff"/>
<rect x="503" y="568" width="37" height="4" fill="#00e7ff"/>
<rect x="503" y="572" width="37" height="3" fill="#18ffe7"/>
<rect x="503" y="575" width="37" height="2" fill="#58ffa7"/>
<rect x="503" y="577" width="37" height="2" fill="#87ff78"/>
<rect x="503" y="579" width="37" height="3" fill="#97ff68"/>
<rect x="503" y="582" width="37" height="3" fill="#b7ff48"/>
<rect x="503" y="585" width="37" height="6" fill="#e7ff18"/>
<rect x="503" y="591" width="37" height="12" fill="#ffe700"/>
<rect x="503" y="603" width="37" height="10" fill="#ffd700"/>
<rect x="503" y="613" width="37" height="3" fill="#ffc700"/>
<rect x="503" y="616" width="37" height="3" fill="#ffa700"/>
<rect x="503" y="619" width="37" height="6" fill="#ff9700"/>
<rect x="503" y="625" width="37" height="4" fill="#ffa700"/>
<rect x="503" y="629" width="37" height="5" fill="#ffd700"/>
<rect x="503" y="634" width="37" height="5" fill="#f7ff08"/>
<rect x="503" y="639" width="37" height="7" fill="#b7ff48"/>
<rect x="503" y="646" width="37" height="8" fill="#00c7ff"/>
<rect x="540" y="501" width="37" height="3" fill="#0000e7"/>
<rect x="540" y="515" width="37" height="2" fill="#000097"/>
<rect x="540" y="517" width="37" height="5" fill="#0068ff"/>
<rect x="540" y="522" width="37" height="7" fill="#0097ff"/>
<rect x="540" y="529" width="37" height="5" fill="#0068ff"/>
<rect x="540" y="534" width="37" height="4" fill="#08fff7"/>
<rect x="540" y="538" width="37" height="5" fill="#68ff97"/>
<rect x="540" y="543" width="37" height="9" fill="#97ff68"/>
<rect x="540" y="552" width="37" height="5" fill="#78ff87"/>
<rect x="540" y="557" width="37" height="2" fill="#87ff78"/>
<rect x="540" y="559" width="37" height="2" fill="#48ffb7"/>
<rect x="540" y="561" width="37" height="4" fill="#18ffe7"/>
<rect x="540" y="565" width="37" height="3" fill="#28ffd7"/>
<rect x="540" y="568" width="37" height="7" fill="#68ff97"/>
<rect x="540" y="575" width="37" height="4" fill="#97ff68"/>
<rect x="540" y="579" width="37" height="3" fill="#b7ff48"/>
<rect x="540" y="582" width="37" height="3" fill="#d7ff28"/>
<rect x="540" y="585" width="37" height="6" fill="#f7ff08"/>
<rect x="540" y="591" width="37" height="3" fill="#ffd700"/>
<rect x="540" y="594" width="37" height="2" fill="#fff700"/>
<rect x="540" y="596" width="37" height="3" fill="#ffd700"/>
<rect x="540" y="599" width="37" height="4" fill="#ffa700"/>
<rect x="540" y="603" width="37" height="4" fill="#ff8700"/>
<rect x="540" y="607" width="37" height="2" fill="#ff8700"/>
<rect x="540" y="609" width="37" height="4" fill="#ffa700"/>
<rect x="540" y="613" width="37" height="9" fill="#ffa700"/>
<rect x="540" y="622" width="37" height="3" fill="#ff9700"/>
<rect x="540" y="625" width="37" height="4" fill="#ff8700"/>
<rect x="540" y="629" width="37" height="5" fill="#ffa700"/>
<rect x="540" y="634" width="37" height="5" fill="#b7ff48"/>
<rect x="540" y="639" width="37" height="7" fill="#28ffd7"/>
<rect x="540" y="646" width="37" height="8" fill="#0038ff"/>
<rect x="725" y="527" width="37" height="7" fill="#0000e7"/>
<rect x="725" y="534" width="37" height="2" fill="#0000b7"/>
<rect x="725" y="536" width="37" height="5" fill="#0000e7"/>
<rect x="725" y="541" width="37" height="2" fill="#0038ff"/>
<rect x="725" y="543" width="37" height="2" fill="#0087ff"/>
<rect x="725" y="545" width="37" height="3" fill="#0058ff"/>
<rect x="725" y="548" width="37" height="2" fill="#000097"/>
<rect x="725" y="550" width="37" height="2" fill="#0000e7"/>
<rect x="725" y="557" width="37" height="4" fill="#0000d7"/>
<rect x="725" y="561" width="37" height="3" fill="#0068ff"/>
<rect x="725" y="564" width="37" height="2" fill="#00b7ff"/>
<rect x="725" y="566" width="37" height="4" fill="#0078ff"/>
<rect x="725" y="570" width="37" height="2" fill="#0000e7"/>
<rect x="725" y="572" width="37" height="3" fill="#0068ff"/>
<rect x="725" y="575" width="37" height="2" fill="#0087ff"/>
<rect x="725" y="577" width="37" height="2" fill="#00d7ff"/>
<rect x="725" y="579" width="37" height="3" fill="#00f7ff"/>
<rect x="725" y="582" width="37" height="3" fill="#18ffe7"/>
<rect x="725" y="585" width="37" height="4" fill="#58ffa7"/>
<rect x="725" y="589" width="37" height="5" fill="#b7ff48"/>
<rect x="725" y="594" width="37" height="5" fill="#e7ff18"/>
<rect x="725" y="599" width="37" height="4" fill="#b7ff48"/>
<rect x="725" y="603" width="37" height="4" fill="#d7ff28"/>
<rect x="725" y="607" width="37" height="9" fill="#d7ff28"/>
<rect x="725" y="616" width="37" height="9" fill="#c7ff38"/>
<rect x="725" y="625" width="37" height="4" fill="#b7ff48"/>
<rect x="725" y="629" width="37" height="5" fill="#e7ff18"/>
<rect x="725" y="634" width="37" height="5" fill="#d7ff28"/>
<rect x="725" y="639" width="37" height="7" fill="#68ff97"/>
<rect x="725" y="646" width="37" height="8" fill="#0078ff"/>
<rect x="762" y="510" width="37" height="3" fill="#0000e7"/>
<rect x="762" y="513" width="37" height="2" fill="#000097"/>
<rect x="762" y="520" width="37" height="4" fill="#0087ff"/>
<rect x="762" y="529" width="37" height="2" fill="#0000b7"/>
<rect x="762" y="531" width="37" height="3" fill="#0000e7"/>
<rect x="762" y="534" width="37" height="4" fill="#00b7ff"/>
<rect x="762" y="538" width="37" height="7" fill="#00d7ff"/>
<rect x="762" y="545" width="37" height="3" fill="#00f7ff"/>
<rect x="762" y="548" width="37" height="2" fill="#0078ff"/>
<rect x="762" y="550" width="37" height="2" fill="#0038ff"/>
<rect x="762" y="552" width="37" height="3" fill="#00c7ff"/>
<rect x="762" y="555" width="37" height="4" fill="#28ffd7"/>
<rect x="762" y="559" width="37" height="5" fill="#68ff97"/>
<rect x="762" y="564" width="37" height="8" fill="#28ffd7"/>
<rect x="762" y="572" width="37" height="3" fill="#48ffb7"/>
<rect x="762" y="575" width="37" height="7" fill="#87ff78"/>
<rect x="762" y="582" width="37" height="5" fill="#b7ff48"/>
<rect x="762" y="587" width="37" height="12" fill="#e7ff18"/>
<rect x="762" y="599" width="37" height="4" fill="#f7ff08"/>
<rect x="762" y="603" width="37" height="4" fill="#fff700"/>
<rect x="762" y="607" width="37" height="12" fill="#ffd700"/>
<rect x="762" y="619" width="37" height="3" fill="#fff700"/>
<rect x="762" y="622" width="37" height="3" fill="#ffd700"/>
<rect x="762" y="625" width="37" height="9" fill="#ffa700"/>
<rect x="762" y="634" width="37" height="5" fill="#f7ff08"/>
<rect x="762" y="639" width="37" height="7" fill="#00d7ff"/>
<rect x="799" y="536" width="36" height="5" fill="#0058ff"/>
<rect x="799" y="541" width="36" height="4" fill="#0018ff"/>
<rect x="799" y="557" width="36" height="2" fill="#0000e7"/>
<rect x="799" y="561" width="36" height="3" fill="#0000b7"/>
<rect x="799" y="564" width="36" height="4" fill="#0008ff"/>
<rect x="799" y="568" width="36" height="2" fill="#0038ff"/>
<rect x="799" y="570" width="36" height="5" fill="#00a7ff"/>
<rect x="799" y="575" width="36" height="2" fill="#18ffe7"/>
<rect x="799" y="577" width="36" height="5" fill="#58ffa7"/>
<rect x="799" y="582" width="36" height="5" fill="#97ff68"/>
<rect x="799" y="587" width="36" height="4" fill="#b7ff48"/>
<rect x="799" y="591" width="36" height="5" fill="#d7ff28"/>
<rect x="799" y="596" width="36" height="3" fill="#f7ff08"/>
<rect x="799" y="599" width="36" height="4" fill="#e7ff18"/>
<rect x="799" y="603" width="36" height="4" fill="#ffd700"/>
<rect x="799" y="607" width="36" height="4" fill="#ffc700"/>
<rect x="799" y="611" width="36" height="5" fill="#ffb700"/>
<rect x="799" y="616" width="36" height="6" fill="#ffa700"/>
<rect x="799" y="622" width="36" height="7" fill="#ff8700"/>
<rect x="799" y="629" width="36" height="5" fill="#ff9700"/>
<rect x="799" y="634" width="36" height="5" fill="#ffc700"/>
<rect x="799" y="639" width="36" height="7" fill="#97ff68"/>
<rect x="799" y="646" width="36" height="8" fill="#0048ff"/>
<path d="M133.5 422.5H862.5V684.5H133.5ZM133.5 414V422M133.5 685V692M248.5 414V422M248.5 685V692M363.5 414V422M363.5 685V692M479.5 414V422M479.5 685V692M594.5 414V422M594.5 685V692M709.5 414V422M709.5 685V692M825.5 414V422M825.5 685V692M129 684.5H133M863 684.5H866M129 679.5H133M863 679.5H866M129 675.5H133M863 675.5H866M129 671.5H133M863 671.5H866M125 668.5H133M863 668.5H870M129 648.5H133M863 648.5H866M129 636.5H133M863 636.5H866M129 627.5H133M863 627.5H866M129 620.5H133M863 620.5H866M129 615.5H133M863 615.5H866M129 610.5H133M863 610.5H866M129 606.5H133M863 606.5H866M129 603.5H133M863 603.5H866M125 600.5H133M863 600.5H870M129 579.5H133M863 579.5H866M129 567.5H133M863 567.5H866M129 559.5H133M863 559.5H866M129 552.5H133M863 552.5H866M129 546.5H133M863 546.5H866M129 542.5H133M863 542.5H866M129 538.5H133M863 538.5H866M129 534.5H133M863 534.5H866M125 531.5H133M863 531.5H870M129 511.5H133M863 511.5H866M129 499.5H133M863 499.5H866M129 490.5H133M863 490.5H866M129 483.5H133M863 483.5H866M129 478.5H133M863 478.5H866M129 473.5H133M863 473.5H866M129 469.5H133M863 469.5H866M129 466.5H133M863 466.5H866M125 463.5H133M863 463.5H870M129 442.5H133M863 442.5H866M129 430.5H133M863 430.5H866M129 422.5H133M863 422.5H866" stroke="#000" stroke-width="1" fill="none" shape-rendering="crispEdges"/>
<text x="133.5" y="715" text-anchor="middle" letter-spacing="-0.3">16:00</text>
<text x="248.8" y="715" text-anchor="middle" letter-spacing="-0.3">16:10</text>
<text x="364.2" y="715" text-anchor="middle" letter-spacing="-0.3">16:20</text>
<text x="479.5" y="715" text-anchor="middle" letter-spacing="-0.3">16:30</text>
<text x="594.8" y="715" text-anchor="middle" letter-spacing="-0.3">16:40</text>
<text x="710.2" y="715" text-anchor="middle" letter-spacing="-0.3">16:50</text>
<text x="825.5" y="715" text-anchor="middle" letter-spacing="-0.3">17:00</text>
<text x="121.5" y="471" text-anchor="end" letter-spacing="-0.3">10000</text>
<text x="121.5" y="539" text-anchor="end" letter-spacing="-0.3">1000</text>
<text x="121.5" y="608" text-anchor="end" letter-spacing="-0.3">100</text>
<text x="121.5" y="676" text-anchor="end" letter-spacing="-0.3">10</text>
<text x="497" y="407" text-anchor="middle" letter-spacing="0.3">Other Ions</text>
<text x="496.5" y="736" text-anchor="middle" letter-spacing="0.4">Time</text>
<text transform="translate(68,556) rotate(-90)" text-anchor="middle" letter-spacing="0.3">Energy (eV)</text>
<text x="897" y="407" text-anchor="middle" letter-spacing="0.2">Log counts</text>
<rect x="884" y="680.89" width="29" height="4.61" fill="#000087"/>
<rect x="884" y="676.78" width="29" height="4.61" fill="#000097"/>
<rect x="884" y="672.67" width="29" height="4.61" fill="#0000a7"/>
<rect x="884" y="668.56" width="29" height="4.61" fill="#0000b7"/>
<rect x="884" y="664.45" width="29" height="4.61" fill="#0000c7"/>
<rect x="884" y="660.34" width="29" height="4.61" fill="#0000d7"/>
<rect x="884" y="656.23" width="29" height="4.61" fill="#0000e7"/>
<rect x="884" y="652.12" width="29" height="4.61" fill="#0000f7"/>
<rect x="884" y="648.02" width="29" height="4.61" fill="#0008ff"/>
<rect x="884" y="643.91" width="29" height="4.61" fill="#0018ff"/>
<rect x="884" y="639.80" width="29" height="4.61" fill="#0028ff"/>
<rect x="884" y="635.69" width="29" height="4.61" fill="#0038ff"/>
<rect x="884" y="631.58" width="29" height="4.61" fill="#0048ff"/>
<rect x="884" y="627.47" width="29" height="4.61" fill="#0058ff"/>
<rect x="884" y="623.36" width="29" height="4.61" fill="#0068ff"/>
<rect x="884" y="619.25" width="29" height="4.61" fill="#0078ff"/>
<rect x="884" y="615.14" width="29" height="4.61" fill="#0087ff"/>
<rect x="884" y="611.03" width="29" height="4.61" fill="#0097ff"/>
<rect x="884" y="606.92" width="29" height="4.61" fill="#00a7ff"/>
<rect x="884" y="602.81" width="29" height="4.61" fill="#00b7ff"/>
<rect x="884" y="598.70" width="29" height="4.61" fill="#00c7ff"/>
<rect x="884" y="594.59" width="29" height="4.61" fill="#00d7ff"/>
<rect x="884" y="590.48" width="29" height="4.61" fill="#00e7ff"/>
<rect x="884" y="586.38" width="29" height="4.61" fill="#00f7ff"/>
<rect x="884" y="582.27" width="29" height="4.61" fill="#08fff7"/>
<rect x="884" y="578.16" width="29" height="4.61" fill="#18ffe7"/>
<rect x="884" y="574.05" width="29" height="4.61" fill="#28ffd7"/>
<rect x="884" y="569.94" width="29" height="4.61" fill="#38ffc7"/>
<rect x="884" y="565.83" width="29" height="4.61" fill="#48ffb7"/>
<rect x="884" y="561.72" width="29" height="4.61" fill="#58ffa7"/>
<rect x="884" y="557.61" width="29" height="4.61" fill="#68ff97"/>
<rect x="884" y="553.50" width="29" height="4.61" fill="#78ff87"/>
<rect x="884" y="549.39" width="29" height="4.61" fill="#87ff78"/>
<rect x="884" y="545.28" width="29" height="4.61" fill="#97ff68"/>
<rect x="884" y="541.17" width="29" height="4.61" fill="#a7ff58"/>
<rect x="884" y="537.06" width="29" height="4.61" fill="#b7ff48"/>
<rect x="884" y="532.95" width="29" height="4.61" fill="#c7ff38"/>
<rect x="884" y="528.84" width="29" height="4.61" fill="#d7ff28"/>
<rect x="884" y="524.73" width="29" height="4.61" fill="#e7ff18"/>
<rect x="884" y="520.62" width="29" height="4.61" fill="#f7ff08"/>
<rect x="884" y="516.52" width="29" height="4.61" fill="#fff700"/>
<rect x="884" y="512.41" width="29" height="4.61" fill="#ffe700"/>
<rect x="884" y="508.30" width="29" height="4.61" fill="#ffd700"/>
<rect x="884" y="504.19" width="29" height="4.61" fill="#ffc700"/>
<rect x="884" y="500.08" width="29" height="4.61" fill="#ffb700"/>
<rect x="884" y="495.97" width="29" height="4.61" fill="#ffa700"/>
<rect x="884" y="491.86" width="29" height="4.61" fill="#ff9700"/>
<rect x="884" y="487.75" width="29" height="4.61" fill="#ff8700"/>
<rect x="884" y="483.64" width="29" height="4.61" fill="#ff7800"/>
<rect x="884" y="479.53" width="29" height="4.61" fill="#ff6800"/>
<rect x="884" y="475.42" width="29" height="4.61" fill="#ff5800"/>
<rect x="884" y="471.31" width="29" height="4.61" fill="#ff4800"/>
<rect x="884" y="467.20" width="29" height="4.61" fill="#ff3800"/>
<rect x="884" y="463.09" width="29" height="4.61" fill="#ff2800"/>
<rect x="884" y="458.98" width="29" height="4.61" fill="#ff1800"/>
<rect x="884" y="454.88" width="29" height="4.61" fill="#ff0800"/>
<rect x="884" y="450.77" width="29" height="4.61" fill="#f70000"/>
<rect x="884" y="446.66" width="29" height="4.61" fill="#e70000"/>
<rect x="884" y="442.55" width="29" height="4.61" fill="#d70000"/>
<rect x="884" y="438.44" width="29" height="4.61" fill="#c70000"/>
<rect x="884" y="434.33" width="29" height="4.61" fill="#b70000"/>
<rect x="884" y="430.22" width="29" height="4.61" fill="#a70000"/>
<rect x="884" y="426.11" width="29" height="4.61" fill="#970000"/>
<rect x="884" y="422.00" width="29" height="4.61" fill="#870000"/>
<text x="916.3" y="693">0</text>
<text x="916.3" y="640">1</text>
<text x="916.3" y="588">2</text>
<text x="916.3" y="535">3</text>
<text x="916.3" y="483">4</text>
<text x="916.3" y="430">5</text>
<path d="M884.5 422.5H912.5V685.5H884.5ZM884 632.5H887M910 632.5H913M884 580.5H887M910 580.5H913M884 527.5H887M910 527.5H913M884 475.5H887M910 475.5H913" stroke="#000" stroke-width="1" fill="none" shape-rendering="crispEdges"/>
</g>
</svg></body></html>
